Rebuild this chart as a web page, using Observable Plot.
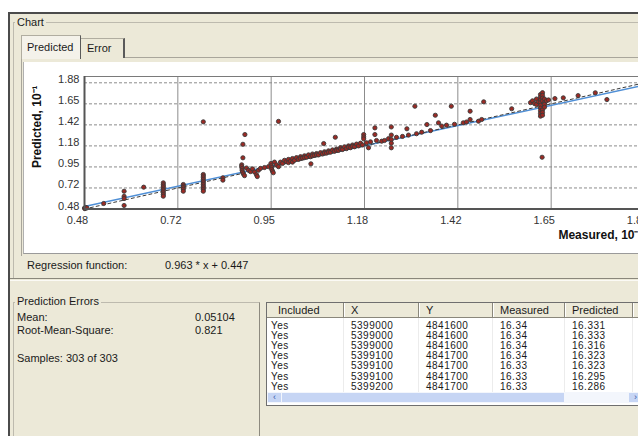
<!DOCTYPE html>
<html>
<head>
<meta charset="utf-8">
<script src="https://cdn.jsdelivr.net/npm/d3@7"></script>
<script src="https://cdn.jsdelivr.net/npm/@observablehq/plot@0.6"></script>
<style>
  html, body { margin: 0; padding: 0; background: #fff; }
  #root { position: relative; width: 638px; height: 436px; overflow: hidden; background: #fff;
          font-family: "Liberation Sans", Arial, sans-serif; font-size: 11px; color: #1a1a1a; }
  .abs { position: absolute; }
  .t { position: absolute; line-height: 12px; white-space: nowrap; }
  #win { left: 8px; top: 12px; width: 700px; height: 500px; background: #ECE9D8;
         border-top: 2px solid #4b4b4b; border-left: 2px solid #4b4b4b; }
  #chartGroup { left: 13px; top: 22px; width: 700px; height: 256px; border-top: 1px solid #bdbaae; border-left: 1px solid #bdbaae; }
  #tabPage { left: 21px; top: 57px; width: 700px; height: 198px; border-top: 1px solid #a9a69b; border-left: 1px solid #a9a69b; }
  #chartArea { left: 23px; top: 62px; width: 700px; height: 191px; background: #fff; border-bottom: 1px solid #9a9a9a; border-left: 1px solid #b0b0b0; overflow: hidden; }
  #tabPred { left: 21px; top: 35px; width: 58px; height: 23px; background: #F4F2EA; border-top: 1px solid #b0ada0; border-left: 1px solid #b0ada0; border-right: 1px solid #5a5a5a; }
  #tabErr { left: 81px; top: 38px; width: 42px; height: 19px; background: #ECE9D8; border-top: 1px solid #b0ada0; border-right: 2px solid #5a5a5a; }
  #split1 { left: 10px; top: 278px; width: 700px; height: 1px; background: #8a877b; }
  #split2 { left: 10px; top: 280px; width: 700px; height: 1px; background: #fbfaf5; }
  #errGroup { left: 13px; top: 302px; width: 245px; height: 200px; border-top: 1px solid #bdbaae; border-left: 1px solid #bdbaae; border-right: 1px solid #8d8a7f; }
  #table { left: 266px; top: 302px; width: 400px; height: 102px; background: #fff; border: 1px solid #6f6f6f; }
  .hdr { position: absolute; top: 0; height: 14px; background: #ECE9D8; border-bottom: 1px solid #8a877b; }
  .hcell { position: absolute; top: 0; height: 14px; line-height: 14px; border-right: 1px solid #8a877b; box-shadow: 1px 0 0 #fff; padding-left: 7px; box-sizing: border-box; white-space: nowrap; }
  .cell { position: absolute; height: 10px; line-height: 10px; font-size: 10px; letter-spacing: 0.5px; white-space: nowrap; }
  .vline { position: absolute; top: 15px; width: 1px; height: 74px; background: #ececec; }
  #scroll { position: absolute; left: 0; top: 89px; width: 400px; height: 11px; background: #f3f6fc; }
  #thumb { position: absolute; left: 15px; top: 1px; width: 282px; height: 9px; background: #c6d5f4; border: 0; }
  #btnL { position: absolute; left: 1px; top: 1px; width: 13px; height: 9px; background: #c6d5f4; color: #3556a8; font-size: 9px; line-height: 9px; text-align: center; }
  #btnR { position: absolute; left: 362px; top: 1px; width: 13px; height: 9px; background: #c6d5f4; color: #3556a8; font-size: 9px; line-height: 9px; text-align: center; }
</style>
</head>
<body>
<div id="root">
  <div id="win" class="abs"></div>
  <div id="chartGroup" class="abs"></div>
  <div class="t" style="left:15px; top:16px; background:#ECE9D8; padding:0 2px;">Chart</div>
  <div id="tabPage" class="abs"></div>
  <div id="tabPred" class="abs"></div>
  <div id="tabErr" class="abs"></div>
  <div class="t" style="left:27px; top:41px;">Predicted</div>
  <div class="t" style="left:87px; top:42px;">Error</div>
  <div id="chartArea" class="abs"></div>
  <div class="t" style="left:27px; top:259px;">Regression function:</div>
  <div class="t" id="regText" style="left:165px; top:259px;"></div>
  <div id="split1" class="abs"></div>
  <div id="split2" class="abs"></div>
  <div id="errGroup" class="abs"></div>
  <div class="t" style="left:15px; top:295px; background:#ECE9D8; padding:0 2px;">Prediction Errors</div>
  <div class="t" id="statMeanLbl" style="left:17px; top:311px;"></div>
  <div class="t" id="statMeanVal" style="left:195px; top:311px;"></div>
  <div class="t" id="statRmsLbl" style="left:17px; top:324px;"></div>
  <div class="t" id="statRmsVal" style="left:195px; top:324px;"></div>
  <div class="t" id="samples" style="left:17px; top:352px;"></div>
  <div id="table" class="abs"></div>
</div>
<script>
// ---------- chart data ----------
const measured = [
  0.480,0.481,0.483,0.486,0.528,0.579,0.579,0.579,0.579,0.628,
  0.677,0.677,0.677,0.677,0.677,0.677,0.677,0.677,0.677,
  0.727,0.727,0.727,0.727,0.727,
  0.777,0.777,0.777,0.777,0.777,0.777,0.777,0.777,0.777,0.777,0.777,0.777,
  0.826,0.826,0.881,0.876,0.876,
  0.873,0.873,0.874,0.874,0.875,0.877,0.880,0.885,0.890,0.895,0.900,0.905,0.910,0.912,0.915,0.920,0.930,0.940,
  0.946,0.947,0.948,0.948,0.950,0.952,0.955,0.960,0.965,0.965,
  0.970,0.975,0.980,0.985,0.990,0.990,0.995,1.000,1.000,1.005,1.010,1.015,1.020,1.020,1.025,1.030,1.030,1.035,1.040,1.045,
  1.046,1.050,1.050,1.055,1.060,1.060,1.065,1.070,1.075,1.078,1.080,1.080,1.085,1.090,1.090,1.095,1.100,1.105,1.107,1.110,
  1.110,1.115,1.120,1.120,1.125,1.130,1.135,1.140,1.140,1.145,1.150,1.150,1.155,1.160,1.165,1.170,1.175,
  1.178,1.178,1.178,1.185,1.190,1.195,1.206,1.206,1.210,1.223,1.230,1.240,1.247,1.247,1.247,1.247,1.247,1.260,1.275,1.286,
  1.290,1.306,1.310,1.323,1.336,1.345,1.357,1.365,1.373,1.385,1.397,1.405,1.427,1.435,1.444,1.444,1.465,1.473,1.478,1.548,
  1.595,1.600,1.605,1.610,1.610,1.615,1.620,1.620,1.620,1.620,1.620,1.620,1.620,1.620,1.620,
  1.625,1.625,1.625,1.625,1.625,1.625,1.625,1.630,1.630,1.630,1.630,1.635,1.640,
  1.624,1.656,1.677,1.714,1.757,1.786
];
const predicted = [
  0.490,0.484,0.497,0.492,0.541,0.677,0.620,0.596,0.519,0.722,
  0.770,0.750,0.733,0.715,0.696,0.680,0.660,0.641,0.622,
  0.752,0.735,0.718,0.700,0.677,
  0.863,0.845,0.826,0.808,0.788,0.770,0.752,0.733,0.715,0.696,0.677,1.447,
  0.826,0.800,1.306,1.198,1.048,
  0.970,0.950,0.930,0.910,0.890,0.870,0.850,0.935,0.910,0.895,0.925,0.890,0.860,0.840,0.910,0.930,0.940,0.950,
  0.985,0.960,0.940,0.920,0.900,0.882,1.000,0.970,0.950,1.452,
  1.000,0.985,1.020,1.005,1.030,0.995,1.010,1.040,1.000,1.020,1.050,1.030,1.060,1.040,1.045,1.070,1.050,1.055,1.080,1.060,
  0.981,1.090,1.070,1.075,1.095,1.080,1.080,1.105,1.090,1.206,1.115,1.100,1.100,1.125,1.110,1.110,1.135,1.120,1.276,1.145,
  1.130,1.130,1.160,1.145,1.140,1.170,1.150,1.180,1.165,1.160,1.190,1.175,1.170,1.200,1.180,1.210,1.190,
  1.306,1.280,1.258,1.215,1.159,1.225,1.380,1.306,1.240,1.232,1.240,1.260,1.390,1.300,1.250,1.210,1.159,1.275,1.285,1.370,
  1.300,1.620,1.315,1.332,1.417,1.350,1.520,1.436,1.400,1.410,1.620,1.420,1.436,1.445,1.565,1.473,1.454,1.473,1.669,1.592,
  1.660,1.680,1.650,1.700,1.640,1.670,1.750,1.720,1.690,1.660,1.630,1.600,1.570,1.540,1.510,
  1.770,1.740,1.710,1.680,1.580,1.550,1.520,1.700,1.660,1.640,1.610,1.680,1.690,
  1.054,1.705,1.713,1.738,1.769,1.694
];
const tickLabels = ["0.48", "0.72", "0.95", "1.18", "1.42", "1.65", "1.88"];
const axisMin = 0.48, axisMax = 1.88;
const regSlope = 0.963, regIntercept = 0.0447;   // chart units (10^-1)
const xTitle = "Measured, 10\u207B\u00B9";
const yTitle = "Predicted, 10\u207B\u00B9";

// ---------- text / table data ----------
const regressionText = "0.963 * x + 0.447";
const statLabels = ["Mean:", "Root-Mean-Square:"];
const statValues = ["0.05104", "0.821"];
const samplesText = "Samples: 303 of 303";
const tableHeaders = ["Included", "X", "Y", "Measured", "Predicted"];
const colIncluded = ["Yes", "Yes", "Yes", "Yes", "Yes", "Yes", "Yes"];
const colX = ["5399000", "5399000", "5399000", "5399100", "5399100", "5399100", "5399200"];
const colY = ["4841600", "4841600", "4841600", "4841700", "4841700", "4841700", "4841700"];
const colMeasured = ["16.34", "16.34", "16.34", "16.34", "16.33", "16.33", "16.33"];
const colPredicted = ["16.331", "16.333", "16.316", "16.323", "16.323", "16.295", "16.286"];

// ---------- build plot ----------
const step = (axisMax - axisMin) / 6;
const tickVals = d3.range(7).map(i => axisMin + i * step);
const fmt = d => tickLabels[Math.round((d - axisMin) / step)];
const pts = measured.map((m, i) => ({m, p: predicted[i]}));
const regLine = [axisMin, axisMax].map(x => ({x, y: regSlope * x + regIntercept}));
const refLine = [axisMin, axisMax].map(x => ({x, y: x}));

const chart = Plot.plot({
  width: 640, height: 190,
  marginLeft: 60, marginRight: 20, marginTop: 14, marginBottom: 43.5,
  style: {fontFamily: "Liberation Sans, Arial, sans-serif", fontSize: "11px", color: "#333", background: "white", overflow: "visible"},
  x: {domain: [axisMin, axisMax], axis: null},
  y: {domain: [axisMin, 1.95], axis: null},
  marks: [
    Plot.ruleX(tickVals.slice(1), {stroke: "#8c8c8c", strokeWidth: 1}),
    Plot.ruleY(tickVals.slice(1), {stroke: "#8c8c8c", strokeDasharray: "3,2"}),
    Plot.frame({stroke: "#7a7a7a"}),
    Plot.line(regLine, {x: "x", y: "y", stroke: "#4f8fd6", strokeWidth: 1.5}),
    Plot.line(refLine, {x: "x", y: "y", stroke: "#3a3a3a", strokeWidth: 1, strokeDasharray: "3,3"}),
    Plot.dot(pts, {x: "m", y: "p", r: 2.1, fill: "#9b2a24", stroke: "#3a3a3a", strokeWidth: 0.9}),
    Plot.ruleY([axisMin], {stroke: "#555", strokeWidth: 2}),
    Plot.ruleX([axisMin], {stroke: "#555", strokeWidth: 2}),
    Plot.text(tickVals, {x: d => d, frameAnchor: "bottom", dy: 14.5, dx: -7, text: fmt, fill: "#333", fontSize: 11}),
    Plot.text(tickVals, {y: d => d, frameAnchor: "left", dx: -5, dy: -3, textAnchor: "end", text: fmt, fill: "#333", fontSize: 11}),
    Plot.text([xTitle], {frameAnchor: "bottom-right", dy: 29.5, dx: -2, textAnchor: "end", text: d => d, fontWeight: "bold", fontSize: 12, fill: "#111"}),
    Plot.text([yTitle], {frameAnchor: "left", dx: -47, dy: -16, rotate: -90, textAnchor: "middle", text: d => d, fontWeight: "bold", fontSize: 12, fill: "#111"})
  ]
});
document.getElementById("chartArea").appendChild(chart);
chart.style.position = "absolute";
chart.style.left = "0px";
chart.style.top = "0px";

// ---------- texts ----------
document.getElementById("regText").textContent = regressionText;
document.getElementById("statMeanLbl").textContent = statLabels[0];
document.getElementById("statMeanVal").textContent = statValues[0];
document.getElementById("statRmsLbl").textContent = statLabels[1];
document.getElementById("statRmsVal").textContent = statValues[1];
document.getElementById("samples").textContent = samplesText;

// ---------- table ----------
const table = document.getElementById("table");
const colLefts = [0, 77, 152, 226, 298, 366];
const hdr = document.createElement("div");
hdr.className = "hdr"; hdr.style.left = "0px"; hdr.style.width = "400px";
table.appendChild(hdr);
tableHeaders.forEach((h, i) => {
  const c = document.createElement("div");
  c.className = "hcell";
  c.style.left = colLefts[i] + "px";
  c.style.width = (colLefts[i + 1] - colLefts[i]) + "px";
  c.textContent = h;
  if (i === 0) c.style.paddingLeft = "11px";
  hdr.appendChild(c);
});
colLefts.slice(1, 6).forEach(l => {
  const v = document.createElement("div");
  v.className = "vline"; v.style.left = (l - 1) + "px";
  table.appendChild(v);
});
const cols = [colIncluded, colX, colY, colMeasured, colPredicted];
const textOff = [4, 7, 7, 7, 7];
colIncluded.forEach((_, r) => {
  cols.forEach((col, ci) => {
    const c = document.createElement("div");
    c.className = "cell";
    c.style.left = (colLefts[ci] + textOff[ci]) + "px";
    c.style.top = (18 + r * 10.1) + "px";
    c.textContent = col[r];
    table.appendChild(c);
  });
});
const sc = document.createElement("div"); sc.id = "scroll";
sc.innerHTML = '<div id="btnL">&#8249;</div><div id="thumb"></div><div id="btnR">&#8250;</div>';
table.appendChild(sc);
</script>
</body>
</html>
